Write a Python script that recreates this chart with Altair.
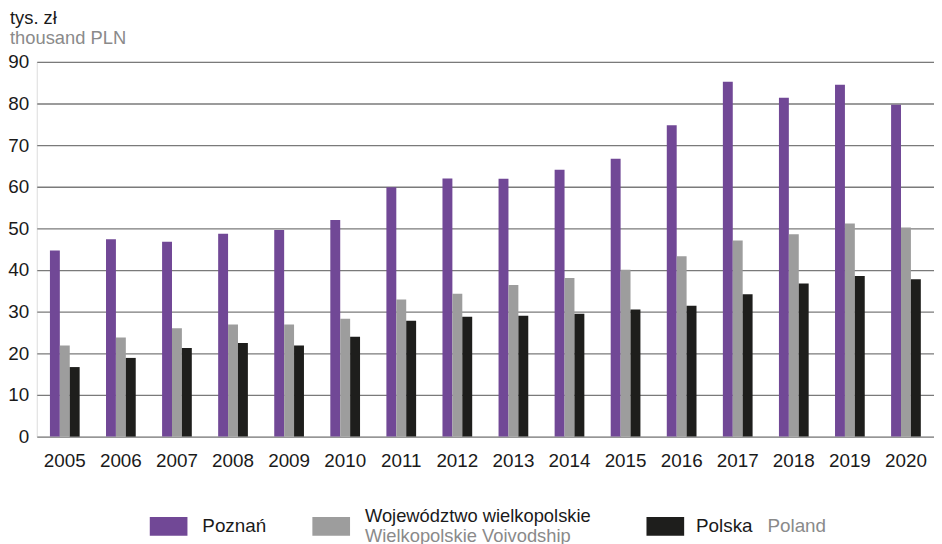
import altair as alt
import pandas as pd

years = [str(y) for y in range(2005, 2021)]
poznan = [44.7, 47.4, 46.8, 48.7, 49.6, 52.0, 59.9, 62.0, 61.9, 64.1, 66.7, 74.8, 85.2, 81.4, 84.5, 79.7]
wielkopolskie = [21.9, 23.8, 26.0, 26.9, 26.9, 28.3, 32.9, 34.3, 36.4, 38.1, 40.1, 43.3, 47.1, 48.6, 51.2, 50.2]
polska = [16.7, 18.9, 21.3, 22.5, 21.9, 24.0, 27.8, 28.8, 29.0, 29.5, 30.5, 31.4, 34.2, 36.8, 38.6, 37.8]
series_names = ["Poznań", "Województwo wielkopolskie", "Polska"]
series_colors = ["#714896", "#9d9d9d", "#1e1e1c"]
y_ticks = [0, 10, 20, 30, 40, 50, 60, 70, 80, 90]

rows = []
for i, y in enumerate(years):
    for name, vals in zip(series_names, [poznan, wielkopolskie, polska]):
        rows.append({"year": y, "series": name, "value": vals[i]})
df = pd.DataFrame(rows)

FONT = "Liberation Sans"
FS = 19
FS2 = 18.5
GRAY_TXT = "#8a8a8a"

bars = alt.Chart(df).mark_bar().encode(
    x=alt.X("year:N", sort=years,
            scale=alt.Scale(paddingInner=0.47, paddingOuter=0.235),
            axis=alt.Axis(title=None, labelAngle=0, ticks=False, domain=False,
                          labelPadding=15, labelFont=FONT, labelFontSize=FS,
                          labelColor="#1a1a1a", grid=False)),
    xOffset=alt.XOffset("series:N", sort=series_names),
    y=alt.Y("value:Q", scale=alt.Scale(domain=[0, 90], nice=False),
            axis=alt.Axis(title=None, values=y_ticks, ticks=False, domain=False,
                          labelPadding=8, labelFont=FONT, labelFontSize=FS,
                          labelColor="#1a1a1a", grid=True, gridColor="#7a7a7a",
                          gridWidth=1.3)),
    color=alt.Color("series:N", sort=series_names,
                    scale=alt.Scale(domain=series_names, range=series_colors),
                    legend=None),
)

one = pd.DataFrame({"k": [0]})


def txt(s, x, y, color="#1a1a1a", size=FS):
    return alt.Chart(pd.DataFrame({"t": [s]})).mark_text(
        align="left", baseline="alphabetic", font=FONT, fontSize=size, color=color
    ).encode(text="t:N", x=alt.value(x), y=alt.value(y))


def sq(x, color):
    return alt.Chart(one).mark_rect(color=color).encode(
        x=alt.value(x), x2=alt.value(x + 38), y=alt.value(459), y2=alt.value(478)
    )


layers = [
    bars,
    txt("tys. zł", -27, -38, size=FS2),
    txt("thousand PLN", -27, -18.3, GRAY_TXT, size=FS2),
    sq(114, series_colors[0]),
    txt("Poznań", 167, 474.3),
    sq(278, series_colors[1]),
    txt("Województwo wielkopolskie", 331, 464.3, size=FS2),
    txt("Wielkopolskie Voivodship", 331, 483.8, GRAY_TXT, size=FS2),
    sq(615, series_colors[2]),
    txt("Polska", 665, 474.3),
    txt("Poland", 737, 474.3, GRAY_TXT),
]

chart = alt.layer(*layers).properties(
    width=905, height=378,
    autosize=alt.AutoSizeParams(type="none"),
    padding={"left": 29, "top": 52, "right": 0, "bottom": 106},
).configure_view(stroke=None).configure(background="white")

chart.save("out.html", embed_options={"renderer": "svg", "actions": False})
